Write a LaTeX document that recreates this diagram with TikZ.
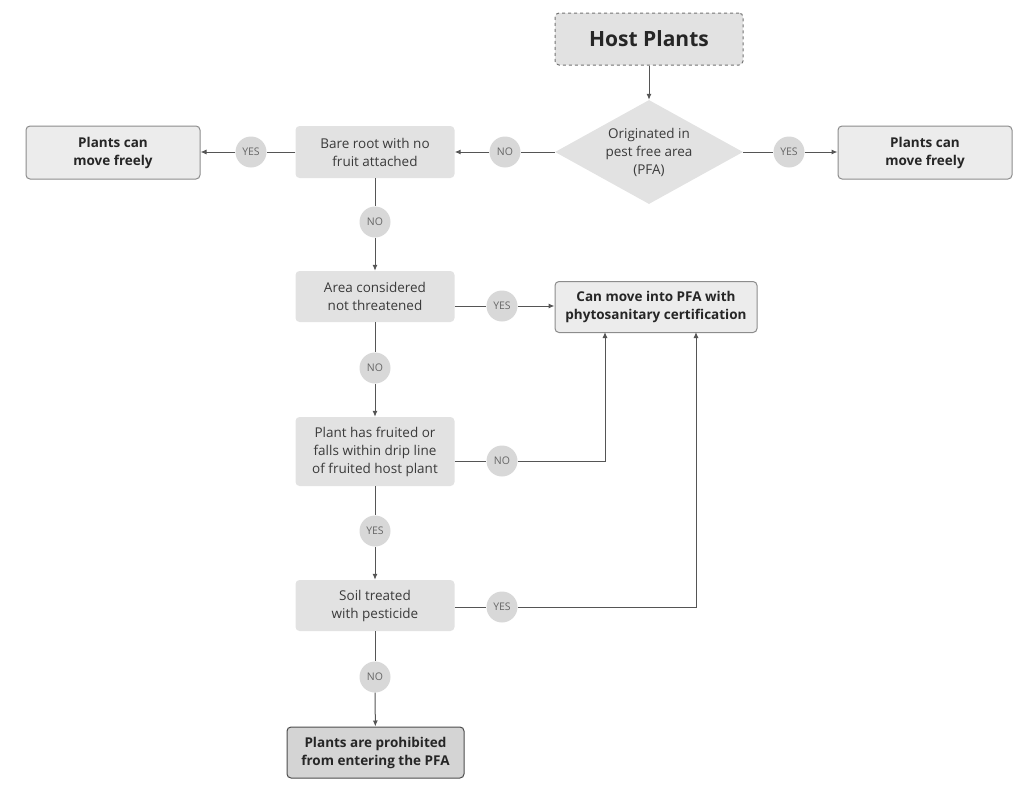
\documentclass[tikz,border=0pt]{standalone}
\usepackage{fontspec}
\setmainfont{Open Sans}
\usepackage{xcolor}
\usetikzlibrary{arrows.meta, shapes.geometric, positioning}

\definecolor{inkgray}{HTML}{3A3A3A}
\definecolor{linegray}{HTML}{555555}
\definecolor{qfill}{HTML}{E2E2E2}
\definecolor{ofill}{HTML}{ECECEC}
\definecolor{afill}{HTML}{D8D8D8}
\definecolor{sfill}{HTML}{D4D4D4}

\tikzset{
    question/.style = {fill=qfill, rounded corners=4pt, minimum width=159pt, minimum height=52pt,
        align=center, text=inkgray, font=\fontsize{13.5}{18}\selectfont, inner sep=1pt},
    decision/.style = {diamond, fill=qfill, minimum width=188pt, minimum height=104pt, aspect=1.8,
        align=center, text=inkgray, font=\fontsize{13.5}{18}\selectfont, inner sep=0pt},
    outcome/.style = {fill=ofill, draw=black!45, line width=1pt, rounded corners=4pt, minimum width=174pt,
        minimum height=53pt, align=center, text=black!85, inner sep=1pt,
        font=\bfseries\fontsize{13.5}{18}\selectfont},
    answer/.style = {circle, fill=afill, minimum size=31pt, inner sep=0pt, text=black!60,
        font=\fontsize{10.5}{11}\selectfont},
    link/.style = {draw=linegray, line width=1pt},
    arr/.style = {link, -{Latex[length=6pt,width=5pt]}}
}

\begin{document}
\begin{tikzpicture}[x=1pt, y=-1pt]
\useasboundingbox (0,0) rectangle (1021,790);

% boxes
\node[fill=qfill, draw=black!55, dashed, line width=1pt, rounded corners=4pt, minimum width=188pt,
    minimum height=52pt, text=black!85, font=\bfseries\fontsize{21}{24}\selectfont] (host) at (649,39) {Host Plants};
\node[decision] (pfa) at (649,152) {Originated in\\pest free area\\(PFA)};
\node[outcome] (freeR) at (925,152.5) {Plants can\\move freely};
\node[question] (bare) at (375,152) {Bare root with no\\fruit attached};
\node[outcome] (freeL) at (113,152.5) {Plants can\\move freely};
\node[question, minimum height=51pt] (area) at (375,296.5) {Area considered\\not threatened};
\node[outcome, minimum width=202pt, minimum height=51pt] (cert) at (656,307) {Can move into PFA with\\phytosanitary certification};
\node[question, minimum height=69pt] (fruit) at (375,451.5) {Plant has fruited or\\falls within drip line\\of fruited host plant};
\node[question, minimum height=51pt] (soil) at (375,605.5) {Soil treated\\with pesticide};
\node[outcome, fill=sfill, draw=black!70, minimum width=177pt, minimum height=51pt] (stop) at (375.5,752.5) {Plants are prohibited\\from entering the PFA};

% yes / no
\node[answer] (yR) at (789,152) {YES};
\node[answer] (nL) at (505,152) {NO};
\node[answer] (yL) at (251,152) {YES};
\node[answer] (n1) at (375,222) {NO};
\node[answer] (y2) at (502,306) {YES};
\node[answer] (n2) at (375,368) {NO};
\node[answer] (n3) at (502,461) {NO};
\node[answer] (y3) at (375,531) {YES};
\node[answer] (y4) at (502,607) {YES};
\node[answer] (n4) at (375,677) {NO};

\coordinate (cin1) at (605,332);
\coordinate (cin2) at (696,332);

% connectors
\draw[arr] (host) -- (pfa);
\draw[link] (pfa.east) -- (yR);
\draw[arr] (yR) -- (yR -| freeR.west);
\draw[link] (pfa.west) -- (nL);
\draw[arr] (nL) -- (bare);
\draw[link] (bare) -- (yL);
\draw[arr] (yL) -- (yL -| freeL.east);
\draw[link] (bare) -- (n1);
\draw[arr] (n1) -- (area);
\draw[link] (y2 -| area.east) -- (y2);
\draw[arr] (y2) -- (y2 -| cert.west);
\draw[link] (area) -- (n2);
\draw[arr] (n2) -- (fruit);
\draw[link] (n3 -| fruit.east) -- (n3);
\draw[arr] (n3) -| (cin1);
\draw[link] (fruit) -- (y3);
\draw[arr] (y3) -- (soil);
\draw[link] (y4 -| soil.east) -- (y4);
\draw[arr] (y4) -| (cin2);
\draw[link] (soil) -- (n4);
\draw[arr] (n4) -- (stop);
\end{tikzpicture}
\end{document}
